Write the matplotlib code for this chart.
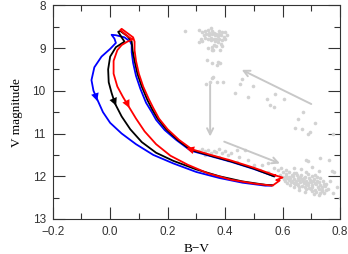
import numpy as np
import matplotlib.pyplot as plt
from matplotlib.ticker import MultipleLocator

# gray stars (B-V, V)
star_bv = [0.26, 0.31, 0.32, 0.33, 0.34, 0.35, 0.355, 0.36, 0.37, 0.38, 0.39, 0.40, 0.405, 0.395,
           0.385, 0.375, 0.365, 0.355, 0.345, 0.335, 0.325, 0.35, 0.36, 0.37, 0.38, 0.39, 0.40,
           0.375, 0.365, 0.35, 0.34, 0.315, 0.31, 0.32, 0.36, 0.37, 0.355, 0.385, 0.39, 0.34,
           0.355, 0.33, 0.38, 0.345,
           0.336, 0.353, 0.371, 0.376, 0.382, 0.358, 0.382,
           0.353, 0.358, 0.348, 0.371, 0.334, 0.392,
           0.458, 0.452, 0.496, 0.435, 0.481, 0.547, 0.574, 0.605, 0.556, 0.571, 0.672, 0.655,
           0.713, 0.643, 0.667, 0.696, 0.690, 0.776,
           0.31, 0.32, 0.33, 0.34, 0.35, 0.36, 0.37, 0.38, 0.39, 0.40, 0.41, 0.42, 0.44, 0.41,
           0.44, 0.47, 0.48, 0.50, 0.36, 0.33, 0.38, 0.53, 0.55, 0.52, 0.55, 0.57, 0.45,
           0.64, 0.702, 0.612, 0.663, 0.728, 0.603, 0.622, 0.648, 0.683, 0.772, 0.592, 0.611,
           0.633, 0.641, 0.664, 0.688, 0.713, 0.601, 0.613, 0.622, 0.637, 0.652, 0.661, 0.679,
           0.703, 0.719, 0.606, 0.617, 0.626, 0.641, 0.653, 0.668, 0.674, 0.692, 0.708, 0.731,
           0.609, 0.621, 0.632, 0.646, 0.657, 0.671, 0.682, 0.697, 0.706, 0.721, 0.742, 0.616,
           0.629, 0.641, 0.651, 0.662, 0.676, 0.687, 0.699, 0.712, 0.727, 0.746, 0.626, 0.642,
           0.654, 0.667, 0.681, 0.689, 0.702, 0.716, 0.731, 0.752, 0.641, 0.659, 0.677, 0.691,
           0.704, 0.722, 0.736, 0.748, 0.656, 0.681, 0.698, 0.712, 0.726, 0.739, 0.757, 0.679,
           0.701, 0.718, 0.736, 0.751, 0.708, 0.731, 0.746, 0.726,
           0.79, 0.78, 0.76, 0.73, 0.68, 0.69, 0.80, 0.595, 0.585, 0.765, 0.775]
star_v = [8.59, 8.58, 8.62, 8.60, 8.58, 8.52, 8.60, 8.64, 8.66, 8.60, 8.63, 8.62, 8.70, 8.74,
          8.70, 8.72, 8.70, 8.68, 8.70, 8.66, 8.70, 8.76, 8.78, 8.80, 8.78, 8.82, 8.80,
          8.86, 8.84, 8.82, 8.80, 8.80, 8.86, 8.84, 8.92, 8.95, 8.98, 8.90, 8.96, 9.00,
          9.05, 8.76, 8.67, 8.64,
          9.28, 9.36, 9.40, 9.32, 9.34, 9.05, 9.05,
          9.71, 9.67, 9.79, 9.79, 9.84, 9.80,
          9.73, 9.84, 9.88, 10.06, 10.15, 10.20, 10.08, 10.20, 10.33, 10.37, 10.49, 10.66,
          10.76, 10.86, 10.90, 10.96, 11.00, 11.01,
          11.40, 11.36, 11.42, 11.38, 11.45, 11.40, 11.43, 11.37, 11.46, 11.42, 11.50, 11.45, 11.39, 11.62,
          11.66, 11.39, 11.62, 11.74, 11.52, 11.50, 11.55, 11.74, 11.70, 11.85, 11.90, 11.80, 11.55,
          11.81, 11.79, 11.86, 11.84, 11.87, 11.91, 11.89, 11.92, 11.90, 11.88, 11.96, 11.94,
          11.97, 11.93, 11.96, 11.95, 11.98, 12.01, 11.99, 12.02, 12.00, 11.98, 12.01, 12.02,
          11.99, 12.01, 12.06, 12.04, 12.05, 12.07, 12.03, 12.06, 12.05, 12.04, 12.07, 12.05,
          12.11, 12.09, 12.10, 12.12, 12.09, 12.11, 12.10, 12.08, 12.11, 12.10, 12.12, 12.16,
          12.14, 12.15, 12.17, 12.14, 12.16, 12.15, 12.13, 12.16, 12.14, 12.17, 12.21, 12.19,
          12.20, 12.22, 12.19, 12.21, 12.20, 12.18, 12.21, 12.19, 12.26, 12.24, 12.25, 12.27,
          12.24, 12.26, 12.25, 12.23, 12.31, 12.29, 12.30, 12.32, 12.29, 12.31, 12.30, 12.36,
          12.34, 12.36, 12.35, 12.33, 12.41, 12.39, 12.40, 12.45,
          12.25, 11.90, 11.62, 11.57, 11.62, 11.65, 12.50, 11.80, 11.86, 12.10, 12.38]

# evolutionary tracks (B-V, V)
red_bv = [0.575, 0.50, 0.42, 0.35, 0.285, 0.24, 0.20, 0.17, 0.15, 0.135, 0.115, 0.10, 0.09,
          0.085, 0.085, 0.08, 0.06, 0.04, 0.035, 0.06, 0.078, 0.06, 0.04,
          0.025, 0.012, 0.012, 0.025, 0.045, 0.063, 0.09, 0.12, 0.16, 0.21, 0.27, 0.34, 0.42,
          0.50, 0.565, 0.59, 0.578, 0.60, 0.575]
red_v = [11.98, 11.80, 11.63, 11.50, 11.37, 11.15, 10.90, 10.65, 10.40, 10.20, 9.90, 9.60, 9.30,
         9.05, 8.85, 8.75, 8.65, 8.55, 8.58, 8.72, 8.80, 8.85, 8.93,
         9.05, 9.30, 9.60, 9.90, 10.15, 10.35, 10.65, 10.95, 11.25, 11.52, 11.73, 11.93, 12.08,
         12.17, 12.22, 12.10, 12.09, 12.03, 11.98]
black_bv = [0.57, 0.50, 0.42, 0.35, 0.28, 0.235, 0.195, 0.165, 0.145, 0.13, 0.11, 0.095, 0.085,
            0.078, 0.075, 0.06, 0.035, 0.028, 0.04, 0.05,
            0.02, 0.0, -0.007, -0.005, 0.005, 0.017, 0.04, 0.07, 0.11, 0.16, 0.22, 0.30, 0.38,
            0.46, 0.54, 0.565]
black_v = [12.0, 11.82, 11.65, 11.52, 11.38, 11.15, 10.90, 10.65, 10.42, 10.22, 9.90, 9.60, 9.30,
           9.05, 8.85, 8.72, 8.60, 8.62, 8.75, 8.85,
           8.98, 9.20, 9.50, 9.80, 10.05, 10.30, 10.60, 10.90, 11.20, 11.45, 11.64, 11.84, 12.00,
           12.12, 12.20, 12.21]
blue_bv = [0.57, 0.50, 0.42, 0.35, 0.28, 0.23, 0.19, 0.16, 0.145, 0.125, 0.105, 0.09, 0.08,
           0.075, 0.075, 0.07, 0.05, 0.02, 0.005, 0.015, 0.02,
           0.0, -0.03, -0.055, -0.065, -0.058, -0.045, -0.025, 0.0, 0.04, 0.09, 0.15, 0.22, 0.30,
           0.38, 0.46, 0.54, 0.56]
blue_v = [12.0, 11.83, 11.66, 11.53, 11.40, 11.15, 10.92, 10.68, 10.50, 10.28, 9.95, 9.65, 9.35,
          9.10, 8.93, 8.85, 8.75, 8.70, 8.69, 8.78, 8.88,
          9.02, 9.20, 9.45, 9.75, 10.0, 10.20, 10.50, 10.75, 11.0, 11.25, 11.50, 11.70, 11.90,
          12.04, 12.15, 12.22, 12.22]

# direction arrows on tracks: (tail, tip, colour)
track_arrows = [((-0.057, 9.98), (-0.045, 10.24), 'blue'),
                ((0.004, 10.08), (0.021, 10.35), 'black'),
                ((0.047, 10.13), (0.067, 10.40), 'red'),
                ((0.34, 11.49), (0.265, 11.34), 'red')]
# gray arrows: (tail, tip)
gray_arrows = [((0.70, 10.31), (0.458, 9.51)),
               ((0.348, 9.86), (0.348, 11.07)),
               ((0.397, 11.19), (0.591, 11.70))]

fig = plt.figure(figsize=(3.48, 2.54), dpi=100)
ax = fig.add_axes([0.1514, 0.1378, 0.8256, 0.8413])

ax.plot(star_bv, star_v, 'o', color='#d2d2d2', ms=2.6, mec='none')
for tail, tip in gray_arrows:
    ax.annotate('', xy=tip, xytext=tail,
                arrowprops=dict(arrowstyle='->', color='#c8c8c8', lw=1.4,
                                mutation_scale=11, shrinkA=0, shrinkB=0))

ax.plot(blue_bv, blue_v, color='#0000ff', lw=1.3)
ax.plot(black_bv, black_v, color='black', lw=1.3)
ax.plot(red_bv, red_v, color='#ff0000', lw=1.3)

for tail, tip, c in track_arrows:
    ax.annotate('', xy=tip, xytext=tail,
                arrowprops=dict(arrowstyle='-|>', color=c, lw=0.01,
                                mutation_scale=14, shrinkA=0, shrinkB=0))

ax.set_xlim(-0.2, 0.8)
ax.set_ylim(13, 8)
ax.xaxis.set_major_locator(MultipleLocator(0.2))
ax.xaxis.set_minor_locator(MultipleLocator(0.1))
ax.yaxis.set_major_locator(MultipleLocator(1))
ax.yaxis.set_minor_locator(MultipleLocator(0.5))
ax.tick_params(which='both', direction='in', top=True, right=True, width=0.8,
               labelsize=8.5, colors='#333333')
ax.tick_params(which='major', length=8.5, pad=5)
ax.tick_params(which='minor', length=4.5)
ax.set_xticks(np.arange(-0.2, 0.81, 0.2))
ax.set_xticklabels(['\u22120.2', '0.0', '0.2', '0.4', '0.6', '0.8'],
                   family='Liberation Sans')
for lab in ax.get_yticklabels():
    lab.set_family('Liberation Sans')
for s in ax.spines.values():
    s.set_linewidth(0.8)
    s.set_color('#333333')

ax.set_xlabel('B\u2212V', family='Liberation Serif', fontsize=9.5, labelpad=4)
ax.set_ylabel('V magnitude', family='Liberation Serif', fontsize=9.5, labelpad=7)

fig.savefig('out.png', dpi=100)
